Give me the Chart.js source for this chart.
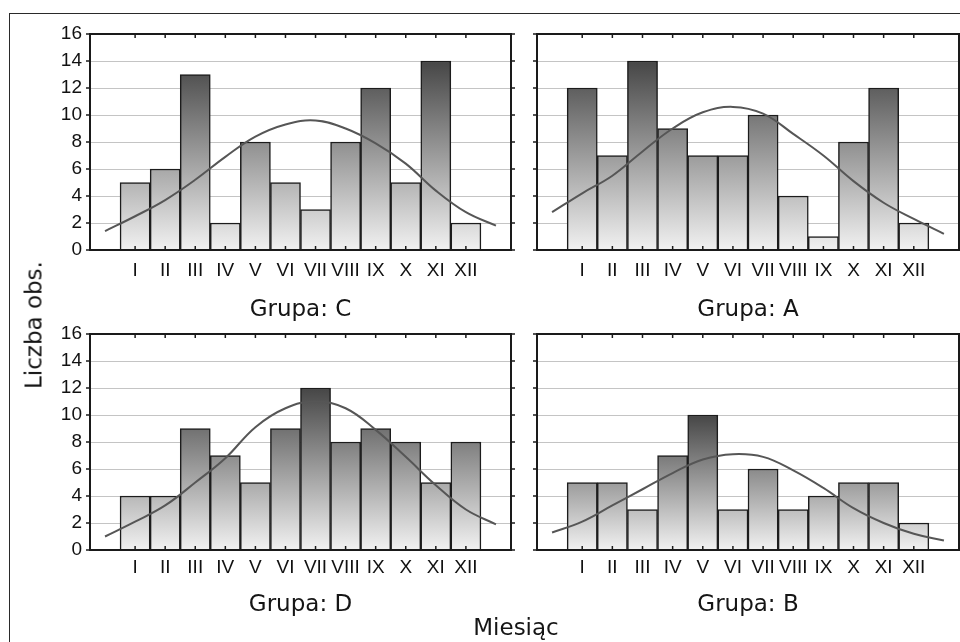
<!DOCTYPE html>
<html>
<head>
<meta charset="utf-8">
<script src="https://cdn.jsdelivr.net/npm/chart.js@4.4.1/dist/chart.umd.min.js"></script>
<style>
  html, body { margin: 0; padding: 0; background: #fff; }
  #wrap { position: relative; width: 960px; height: 642px; overflow: hidden; }
  #frame {
    position: absolute; left: 9px; top: 13px; width: 980px; height: 660px;
    border-left: 1.5px solid #2a2a2a; border-top: 1.5px solid #2a2a2a;
  }
  canvas { position: absolute; }
  .lbl {
    position: absolute; font-family: "DejaVu Sans", sans-serif; font-size: 23px;
    color: #151515; line-height: 1; white-space: nowrap;
  }
  #ylab { left: 34px; top: 325px; transform: translate(-50%, -50%) rotate(-90deg); }
  #xlab { left: 516px; top: 627px; transform: translate(-50%, -50%); }
</style>
</head>
<body>
<div id="wrap">
  <div id="frame"></div>
  <canvas id="pC" width="477" height="302" style="left:38px;top:22px"></canvas>
  <canvas id="pA" width="430" height="302" style="left:530px;top:22px"></canvas>
  <canvas id="pD" width="477" height="297" style="left:38px;top:322px"></canvas>
  <canvas id="pB" width="430" height="297" style="left:530px;top:322px"></canvas>
  <div class="lbl" id="ylab">Liczba obs.</div>
  <div class="lbl" id="xlab">Miesiąc</div>
</div>
<script>
  const months = ["I", "II", "III", "IV", "V", "VI", "VII", "VIII", "IX", "X", "XI", "XII"];
  const yTicks = [0, 2, 4, 6, 8, 10, 12, 14, 16];

  const groupC = [5, 6, 13, 2, 8, 5, 3, 8, 12, 5, 14, 2];
  const groupA = [12, 7, 14, 9, 7, 7, 10, 4, 1, 8, 12, 2];
  const groupD = [4, 4, 9, 7, 5, 9, 12, 8, 9, 8, 5, 8];
  const groupB = [5, 5, 3, 7, 10, 3, 6, 3, 4, 5, 5, 2];

  // fitted normal curve at each month position (0 and 13 = plot edges)
  const curveX = [0, 1, 2, 3, 4, 5, 6, 7, 8, 9, 10, 11, 12, 13];
  const curveC = [1.4, 2.5, 3.7, 5.2, 6.9, 8.4, 9.3, 9.6, 9.0, 7.9, 6.4, 4.4, 2.8, 1.8];
  const curveA = [2.8, 4.2, 5.5, 7.3, 9.0, 10.2, 10.6, 10.1, 8.6, 7.0, 5.1, 3.5, 2.3, 1.2];
  const curveD = [1.0, 2.1, 3.3, 5.0, 6.8, 9.1, 10.5, 11.0, 10.5, 8.9, 6.9, 4.8, 3.0, 1.9];
  const curveB = [1.3, 2.1, 3.3, 4.5, 5.7, 6.7, 7.1, 6.9, 5.9, 4.6, 3.1, 2.0, 1.2, 0.7];

  const tickFont = { family: "'Liberation Sans', Arial, sans-serif", size: 19 };

  // black plot frame + short tick marks like the original
  const frameTicks = {
    id: "frameTicks",
    afterDatasetsDraw(chart) {
      const { ctx, chartArea: a, scales: { x, y } } = chart;
      const line = (x1, y1, x2, y2) => {
        ctx.beginPath(); ctx.moveTo(x1, y1); ctx.lineTo(x2, y2); ctx.stroke();
      };
      ctx.save();
      ctx.strokeStyle = "#1a1a1a";
      ctx.lineWidth = 1.5;
      months.forEach((m, i) => {
        const px = x.getPixelForValue(i + 1);
        line(px, a.bottom, px, a.bottom - 4);
        line(px, a.top, px, a.top + 4);
      });
      yTicks.forEach(v => {
        const py = y.getPixelForValue(v);
        line(a.left - 4, py, a.left, py);
        line(a.right, py, a.right + 4, py);
      });
      ctx.lineWidth = 2;
      ctx.strokeRect(a.left, a.top, a.right - a.left, a.bottom - a.top);
      ctx.restore();
    }
  };

  function panel(id, title, values, curve, opt) {
    const top = Math.max(...values);
    new Chart(document.getElementById(id), {
      type: "bar",
      data: {
        datasets: [
          {
            type: "line",
            data: curveX.map((x, i) => ({ x: x, y: curve[i] })),
            borderColor: "#565656",
            borderWidth: 2,
            pointRadius: 0,
            tension: 0.4,
            order: 0
          },
          {
            data: months.map((m, i) => ({ x: i + 1, y: values[i] })),
            backgroundColor: function (c) {
              const chart = c.chart;
              if (!chart.chartArea) return "#999";
              const ys = chart.scales.y;
              const g = chart.ctx.createLinearGradient(0, ys.getPixelForValue(0), 0, ys.getPixelForValue(top));
              g.addColorStop(0, "#f1f1f1");
              g.addColorStop(1, "#464646");
              return g;
            },
            borderColor: "#1c1c1c",
            borderWidth: 1.5,
            barPercentage: 1,
            categoryPercentage: 1,
            order: 1
          }
        ]
      },
      options: {
        responsive: false,
        animation: false,
        layout: { padding: { top: 12, right: opt.right, bottom: 0, left: opt.left } },
        plugins: { legend: { display: false }, tooltip: { enabled: false } },
        scales: {
          x: {
            type: "linear",
            min: 0,
            max: 13,
            afterFit: s => { s.height = opt.xh; s.paddingLeft = 0; s.paddingRight = 0; },
            grid: { display: false, drawTicks: false },
            border: { display: false },
            ticks: {
              stepSize: 1,
              autoSkip: false,
              maxRotation: 0,
              padding: opt.pad,
              color: "#111",
              font: tickFont,
              callback: v => (Number.isInteger(v) && months[v - 1]) || ""
            },
            title: {
              display: true,
              text: title,
              color: "#151515",
              padding: 0,
              font: { family: "'DejaVu Sans', sans-serif", size: 23 }
            }
          },
          y: {
            min: 0,
            max: 16,
            afterFit: s => { s.width = opt.yw; s.paddingTop = 0; s.paddingBottom = 0; },
            grid: { color: "#c4c4c4", lineWidth: 1, drawTicks: false },
            border: { display: false },
            ticks: {
              display: opt.yw > 0,
              stepSize: 2,
              padding: 8,
              color: "#111",
              font: tickFont,
              callback: v => (yTicks.includes(v) ? v : "")
            }
          }
        }
      },
      plugins: [frameTicks]
    });
  }

  panel("pC", "Grupa: C", groupC, curveC, { left: 0, right: 4, yw: 52, xh: 74, pad: 9 });
  panel("pA", "Grupa: A", groupA, curveA, { left: 7, right: 1, yw: 0, xh: 74, pad: 9 });
  panel("pD", "Grupa: D", groupD, curveD, { left: 0, right: 4, yw: 52, xh: 69, pad: 6 });
  panel("pB", "Grupa: B", groupB, curveB, { left: 7, right: 1, yw: 0, xh: 69, pad: 6 });
</script>
</body>
</html>
